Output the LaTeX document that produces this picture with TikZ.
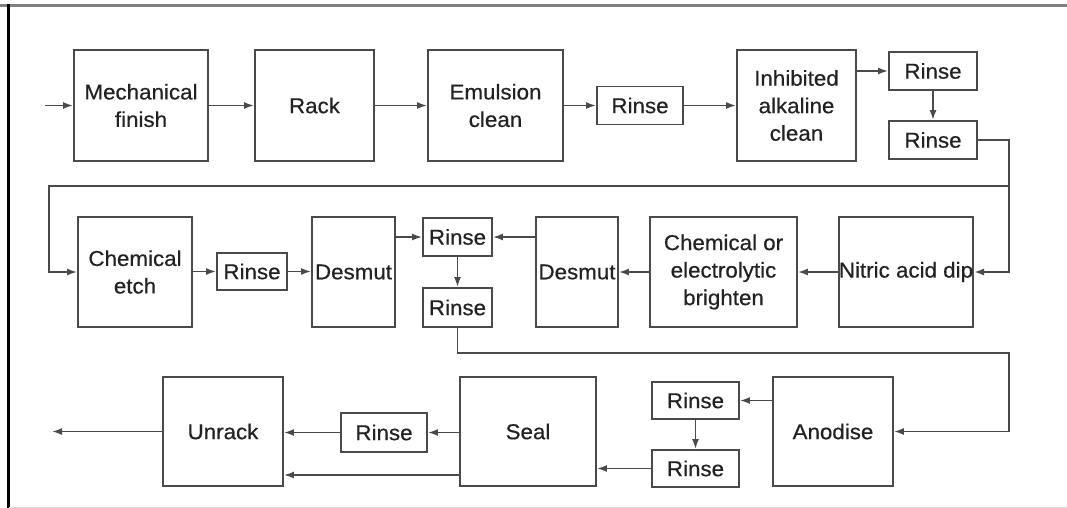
\documentclass[tikz,border=0pt]{standalone}
\usepackage{fontspec}
\setmainfont[FakeBold=0.5,FakeStretch=1.04]{Liberation Sans}
\usetikzlibrary{arrows.meta}
\definecolor{ln}{HTML}{4A4A4A}
\definecolor{tx}{HTML}{222222}
\begin{document}
\begin{tikzpicture}[x=1pt,y=-1pt,
  box/.style={draw=ln,line width=1.9pt,rectangle,inner sep=0pt,align=center,text=tx,
    font=\fontsize{21.5}{27.5}\selectfont},
  arr/.style={draw=ln,line width=1.7pt,-{Latex[length=10pt,width=7pt]}},
  ln/.style={draw=ln,line width=1.7pt}]
\useasboundingbox (0,0) rectangle (1067,508);
% frame
\draw[line width=3pt,draw=gray] (0,6) -- (1067,6);
\draw[line width=2.5pt,draw=black] (8.5,4.5) -- (8.5,508);
\draw[line width=1pt,draw=gray!25] (9,507) -- (1067,507);
% row 1
\node[box,minimum width=134pt,minimum height=111pt] (mech) at (141,105.5) {Mechanical\\finish};
\node[box,minimum width=119pt,minimum height=111pt] (rack) at (314.5,105.5) {Rack};
\node[box,minimum width=135pt,minimum height=111pt] (emul) at (495.5,105.5) {Emulsion\\clean};
\node[box,minimum width=86pt,minimum height=38pt] (rinse1) at (640,105.5) {Rinse};
\node[box,minimum width=119pt,minimum height=111pt] (inhib) at (796.5,105.5) {Inhibited\\alkaline\\clean};
\node[box,minimum width=88pt,minimum height=38pt] (rinseA) at (933,71) {Rinse};
\node[box,minimum width=88pt,minimum height=38pt] (rinseB) at (933,140) {Rinse};
% row 2
\node[box,minimum width=114pt,minimum height=110pt] (etch) at (135,272) {Chemical\\etch};
\node[box,minimum width=70pt,minimum height=37pt] (rinse2) at (252,271.5) {Rinse};
\node[box,minimum width=83pt,minimum height=110pt] (desmL) at (353.5,272) {Desmut};
\node[box,minimum width=69pt,minimum height=38pt] (rinseC) at (457.5,237) {Rinse};
\node[box,minimum width=69pt,minimum height=39pt] (rinseD) at (457.5,307.5) {Rinse};
\node[box,minimum width=82pt,minimum height=110pt] (desmR) at (577,272) {Desmut};
\node[box,minimum width=147pt,minimum height=110pt] (bright) at (723.5,272) {Chemical or\\electrolytic\\brighten};
\node[box,minimum width=134pt,minimum height=110pt] (nitric) at (906,272) {Nitric acid dip};
% row 3
\node[box,minimum width=120pt,minimum height=109pt] (anod) at (833,431.5) {Anodise};
\node[box,minimum width=87pt,minimum height=37pt] (rinseE) at (695.5,400.5) {Rinse};
\node[box,minimum width=87pt,minimum height=37pt] (rinseF) at (695.5,468.5) {Rinse};
\node[box,minimum width=136pt,minimum height=109pt] (seal) at (528,431.5) {Seal};
\node[box,minimum width=86pt,minimum height=39pt] (rinse3) at (384,432.5) {Rinse};
\node[box,minimum width=120pt,minimum height=109pt] (unrack) at (223,431.5) {Unrack};
% coordinates
\coordinate (in) at (45,105.5);
\coordinate (c1) at (1009,186);
\coordinate (c2) at (49,186);
\coordinate (c3) at (1009,353);
\coordinate (out) at (52,431.5);
% connectors row 1
\draw[arr] (in) -- (mech.west);
\draw[arr] (mech.east) -- (rack.west);
\draw[arr] (rack.east) -- (emul.west);
\draw[arr] (emul.east) -- (rinse1.west);
\draw[arr] (rinse1.east) -- (inhib.west);
\draw[arr] (inhib.east |- rinseA.west) -- (rinseA.west);
\draw[arr] (rinseA.south) -- (rinseB.north);
\draw[arr] (rinseB.east) -| (c1) |- (nitric.east);
\draw[arr] (c1) -- (c2) |- (etch.west);
% row 2
\draw[arr] (etch.east |- rinse2.west) -- (rinse2.west);
\draw[arr] (rinse2.east) -- (rinse2.east -| desmL.west);
\draw[arr] (desmL.east |- rinseC.west) -- (rinseC.west);
\draw[arr] (desmR.west |- rinseC.east) -- (rinseC.east);
\draw[arr] (rinseC.south) -- (rinseD.north);
\draw[arr] (nitric.west) -- (bright.east);
\draw[arr] (bright.west) -- (desmR.east);
\draw[arr] (rinseD.south) |- (c3) |- (anod.east);
% row 3
\draw[arr] (anod.west |- rinseE.east) -- (rinseE.east);
\draw[arr] (rinseE.south) -- (rinseF.north);
\draw[arr] (rinseF.west) -- (rinseF.west -| seal.east);
\draw[arr] (seal.west |- rinse3.east) -- (rinse3.east);
\draw[arr] (rinse3.west) -- (rinse3.west -| unrack.east);
\draw[arr] ([yshift=-43.5pt]seal.west) -- ([yshift=-43.5pt]seal.west -| unrack.east);
\draw[arr] (unrack.west) -- (out);
\end{tikzpicture}
\end{document}
